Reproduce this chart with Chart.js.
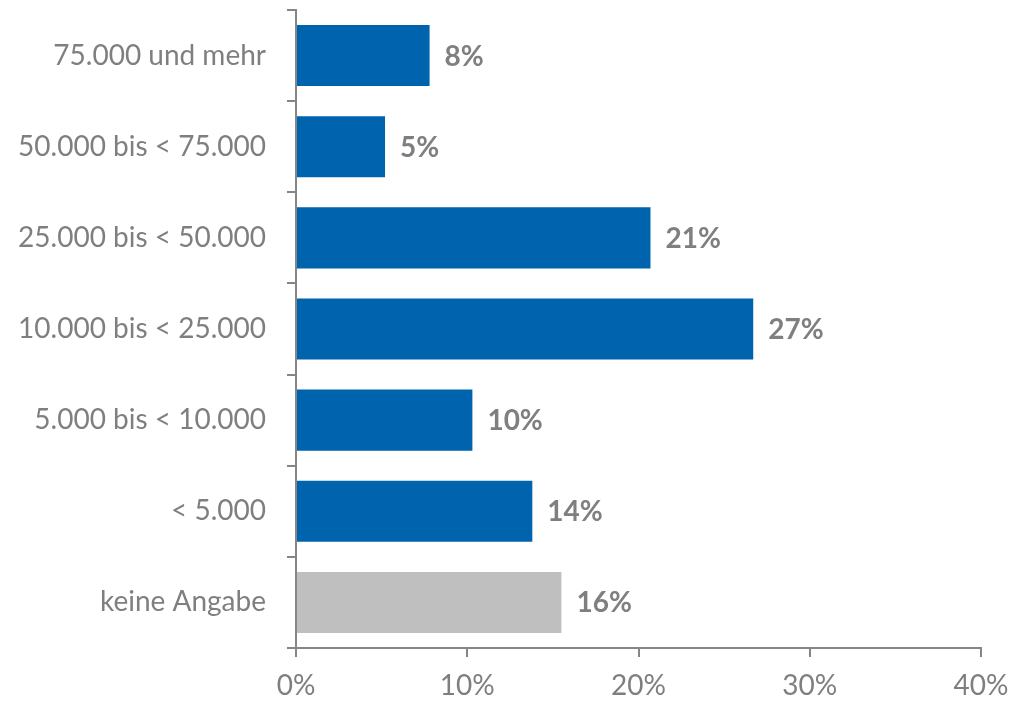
<!DOCTYPE html>
<html>
<head>
<meta charset="utf-8">
<script src="https://cdn.jsdelivr.net/npm/chart.js@4/dist/chart.umd.min.js"></script>
<style>
  html, body { margin: 0; padding: 0; background: #fff; }
  #wrap { width: 1013px; height: 704px; }
</style>
</head>
<body>
<div id="wrap"><canvas id="incomeChart" width="1013" height="704"></canvas></div>
<script>
// income brackets, top to bottom
const categories = ['75.000 und mehr', '50.000 bis < 75.000', '25.000 bis < 50.000',
  '10.000 bis < 25.000', '5.000 bis < 10.000', '< 5.000', 'keine Angabe'];
const shares = [7.8, 5.2, 20.7, 26.7, 10.3, 13.8, 15.5];
const shareLabels = ['8%', '5%', '21%', '27%', '10%', '14%', '16%'];
const xTicks = [0, 10, 20, 30, 40];

const blue = '#0063AD';
const grey = '#BFBFBF';
const axisGrey = '#868686';
const textGrey = '#7F7F7F';

const barColors = categories.map(c => c === 'keine Angabe' ? grey : blue);

// draws the value next to each bar
const valueLabels = {
  id: 'valueLabels',
  afterDatasetsDraw(chart) {
    const ctx = chart.ctx;
    const meta = chart.getDatasetMeta(0);
    ctx.save();
    ctx.font = 'bold 28px Lato';
    ctx.fillStyle = textGrey;
    ctx.textAlign = 'left';
    ctx.textBaseline = 'middle';
    meta.data.forEach((bar, i) => {
      ctx.fillText(shareLabels[i], bar.x + 15, bar.y + 1);
    });
    ctx.restore();
  }
};

const ctx = document.getElementById('incomeChart');
const chart = new Chart(ctx, {
  type: 'bar',
  data: {
    labels: categories,
    datasets: [{
      data: shares,
      backgroundColor: barColors,
      barPercentage: 0.67,
      categoryPercentage: 1
    }]
  },
  options: {
    indexAxis: 'y',
    responsive: false,
    animation: false,
    layout: { padding: { top: 10, right: 32, left: 0, bottom: 0 } },
    plugins: {
      legend: { display: false },
      tooltip: { enabled: false }
    },
    scales: {
      x: {
        min: 0,
        max: 40,
        afterBuildTicks(scale) {
          scale.ticks = xTicks.map(v => ({ value: v }));
        },
        afterFit(scale) {
          scale.height = 56;
          scale.paddingLeft = 0;
          scale.paddingRight = 0;
        },
        grid: { drawOnChartArea: false, tickLength: 9, color: axisGrey, lineWidth: 2 },
        border: { color: axisGrey, width: 2 },
        ticks: {
          color: textGrey,
          font: { family: 'Lato', size: 28 },
          padding: 12,
          maxRotation: 0,
          callback: v => v + '%'
        }
      },
      y: {
        afterFit(scale) {
          scale.width = 296;
          scale.paddingTop = 0;
          scale.paddingBottom = 0;
        },
        grid: { drawOnChartArea: false, offset: true, tickLength: 9, color: axisGrey, lineWidth: 2 },
        border: { color: axisGrey, width: 2 },
        ticks: {
          color: textGrey,
          font: { family: 'Lato', size: 28 },
          padding: 21
        }
      }
    }
  },
  plugins: [valueLabels]
});
</script>
</body>
</html>
